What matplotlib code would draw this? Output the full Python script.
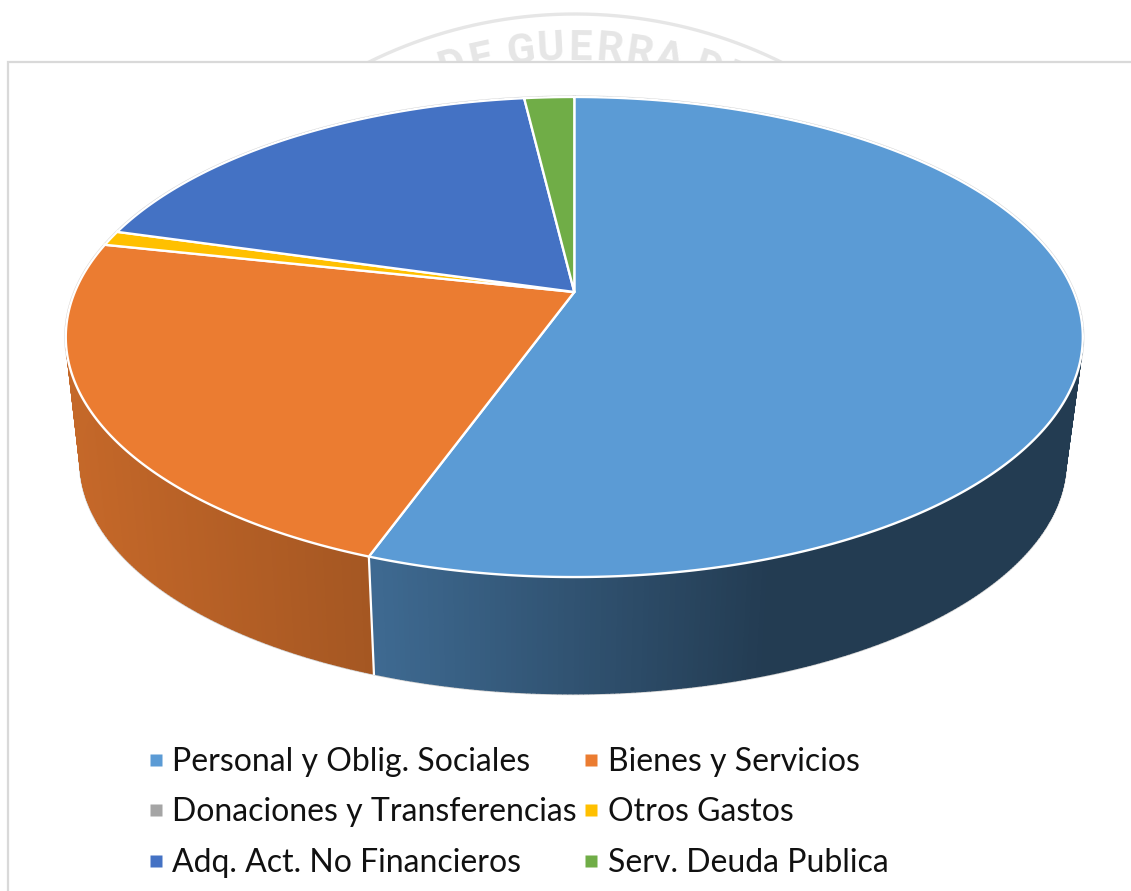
import numpy as np
import matplotlib
matplotlib.use("Agg")
import matplotlib.pyplot as plt
from matplotlib.collections import PolyCollection
from matplotlib.lines import Line2D
from matplotlib.patches import Polygon, Rectangle

categories = ["Personal y Oblig. Sociales", "Bienes y Servicios", "Donaciones y Transferencias",
              "Otros Gastos", "Adq. Act. No Financieros", "Serv. Deuda Publica"]
values = [55.5, 22.9, 0.0, 1.0, 18.7, 1.9]
colors = ["#5B9BD5", "#EB7C31", "#A5A5A5", "#FFC000", "#4472C4", "#70AD47"]
watermark = "A DE GUERRA DE"

# side-wall shading: factor at x0 and x1 (pixel positions along the rim)
wall_shade = {0: (375, 0.68, 770, 0.385), 1: (75, 0.835, 370, 0.70)}

W, H = 1131, 891
fig = plt.figure(figsize=(W / 100, H / 100), dpi=100, facecolor="white")
ax = fig.add_axes([0, 0, 1, 1])
ax.set_xlim(0, W)
ax.set_ylim(H, 0)
ax.axis("off")

K = 0.1875
def project(theta, x0, y0, bx, ay):
    u, v = np.sin(theta), np.cos(theta)
    d = 1 + K * v
    return x0 + bx * u / d, y0 - ay * v / d

TOP = (574.3, 292, 499.5, 231.6)
BOT = (573, 418, 484, 224)

# watermark ring, clipped by the chart frame
clip = Rectangle((0, 0), W, 62, transform=ax.transData)
cx, cy = 575, 480
a = np.linspace(-0.55, 0.55, 200)
ax.plot(cx + 466 * np.sin(a), cy - 466 * np.cos(a), color="#E6E6E6", lw=2.4, clip_path=clip, zorder=1)
p = 0.0
for ch in watermark:
    if ch == " ":
        p += 10 - 29
    else:
        t = (p - 160) / 420
        ax.text(cx + 420 * np.sin(t), cy - 420 * np.cos(t), ch, rotation=-np.rad2deg(t), rotation_mode="anchor",
                ha="center", va="baseline", fontsize=30, fontweight="bold", family="Roboto", color="#E6E6E6",
                clip_path=clip, clip_on=True, zorder=1)
    p += 29

# chart frame
ax.add_patch(Rectangle((8, 62), W + 20, H, facecolor="white", edgecolor="#D9D9D9", lw=1.6, zorder=2))

# outer halo of both rims
full = np.linspace(0, 2 * np.pi, 1441)
for geom in (TOP, BOT):
    ax.plot(*project(full, *geom), color="#D2D2D2", lw=2.2, zorder=3)

edges = np.deg2rad(np.concatenate([[0], np.cumsum(values)]) * 3.6)

# side walls
polys, fcs = [], []
for i, c in enumerate(colors):
    if values[i] == 0:
        continue
    th = np.arange(edges[i], edges[i + 1], np.deg2rad(0.5))
    th = np.append(th, edges[i + 1])
    xt, yt = project(th, *TOP)
    xb, yb = project(th, *BOT)
    rgb = np.array(matplotlib.colors.to_rgb(c))
    x0, f0, x1, f1 = wall_shade.get(i, (0, 0.5, 1, 0.5))
    for j in range(len(th) - 1):
        polys.append([(xt[j], yt[j]), (xt[j + 1], yt[j + 1]), (xb[j + 1], yb[j + 1]), (xb[j], yb[j])])
        f = np.interp((xt[j] + xt[j + 1]) / 2, [x0, x1], [f0, f1])
        fcs.append(tuple(rgb * f))
ax.add_collection(PolyCollection(polys, facecolors=fcs, edgecolors=fcs, linewidths=1.0, zorder=4))

for e in edges[:-1]:
    xt, yt = project(e, *TOP)
    xb, yb = project(e, *BOT)
    ax.plot([xt, xb], [yt, yb], color="white", lw=1.6, zorder=5)

# top face
for i, c in enumerate(colors):
    if values[i] == 0:
        continue
    th = np.linspace(edges[i], edges[i + 1], 400)
    x, y = project(th, *TOP)
    pts = np.column_stack([np.r_[TOP[0], x], np.r_[TOP[1], y]])
    ax.add_patch(Polygon(pts, closed=True, facecolor=c, edgecolor="white", lw=1.7, joinstyle="round", zorder=6))

handles = [Line2D([], [], ls="none", marker="s", ms=8, mfc=c, mec="none") for c in colors]
order = [0, 2, 4, 1, 3, 5]
leg = ax.legend([handles[i] for i in order], [categories[i] for i in order], ncols=2,
                loc="upper left", bbox_to_anchor=(146 / W, 1 - 747 / H), frameon=False,
                prop={"family": "Lato", "size": 23}, labelspacing=0.64, handlelength=0.6,
                handletextpad=0.216, columnspacing=0.16, borderpad=0, borderaxespad=0, labelcolor="#111111")
leg.set_zorder(7)

fig.savefig("out.png", dpi=100, facecolor="white")
